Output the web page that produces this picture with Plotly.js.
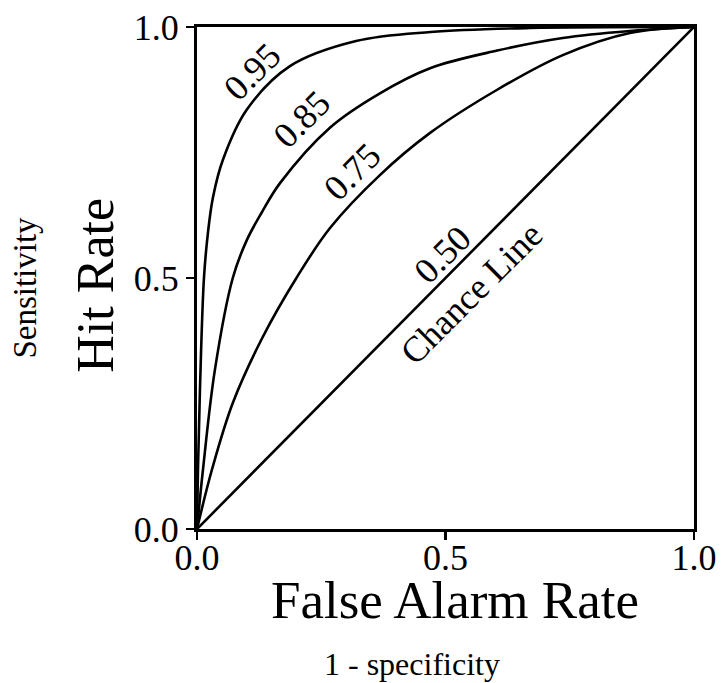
<!DOCTYPE html>
<html>
<head>
<meta charset="utf-8">
<script src="https://cdn.plot.ly/plotly-3.0.1.min.js"></script>
<style>
  html, body { margin: 0; padding: 0; background: #ffffff; }
  #chart { width: 721px; height: 683px; }
</style>
</head>
<body>
<div id="chart"></div>
<script>
// ROC curves: hit rate against false-alarm rate for several areas under the curve
const far95 = [0, 0.002, 0.006, 0.014, 0.022, 0.032, 0.052, 0.10, 0.187, 0.32, 0.47, 0.67, 1.0];
const hr95  = [0, 0.12, 0.28, 0.50, 0.59, 0.66, 0.735, 0.835, 0.922, 0.972, 0.99, 0.998, 1.0];

const far85 = [0, 0.012, 0.036, 0.072, 0.10, 0.13, 0.167, 0.268, 0.368, 0.469, 0.604, 0.736, 0.871, 1.0];
const hr85  = [0, 0.118, 0.317, 0.50, 0.575, 0.63, 0.689, 0.80, 0.868, 0.918, 0.953, 0.978, 0.992, 1.0];

const far75 = [0, 0.03, 0.072, 0.131, 0.20, 0.268, 0.368, 0.469, 0.604, 0.736, 0.871, 1.0];
const hr75  = [0, 0.118, 0.251, 0.38, 0.50, 0.60, 0.705, 0.789, 0.875, 0.944, 0.988, 1.0];

const far50 = [0, 1];
const hr50  = [0, 1];

const tickVals = [0, 0.5, 1];
const tickText = ['0.0', '0.5', '1.0'];

// Curve labels and where they sit along each curve (data coordinates)
const curveLabels = ['0.95', '0.85', '0.75', '0.50', 'Chance Line'];
const labelX = [0.111, 0.211, 0.312, 0.493, 0.553];
const labelY = [0.910, 0.817, 0.711, 0.546, 0.470];

const serif = 'Liberation Serif, Times New Roman, serif';
const lineStyle = { color: '#000', width: 2.6, shape: 'spline', smoothing: 1 };

const traces = [
  [far95, hr95], [far85, hr85], [far75, hr75], [far50, hr50]
].map(([x, y]) => ({
  x, y, type: 'scatter', mode: 'lines', line: lineStyle, hoverinfo: 'skip'
}));

const annotations = curveLabels.map((t, i) => ({
  text: t, x: labelX[i], y: labelY[i], xref: 'x', yref: 'y',
  xanchor: 'center', yanchor: 'middle',
  showarrow: false, textangle: -45,
  font: { family: serif, size: 36, color: '#000' }
}));

// Axis titles and their plain-language glosses
const titleBase = { xref: 'paper', yref: 'paper', xanchor: 'center', yanchor: 'middle', showarrow: false };
annotations.push(
  Object.assign({ text: 'Hit Rate', x: -0.206, y: 0.486, textangle: -90,
    font: { family: serif, size: 52, color: '#000' } }, titleBase),
  Object.assign({ text: 'Sensitivity', x: -0.345, y: 0.48, textangle: -90,
    font: { family: serif, size: 33, color: '#000' } }, titleBase),
  Object.assign({ text: 'False Alarm Rate', x: 0.519, y: -0.141,
    font: { family: serif, size: 53, color: '#000' } }, titleBase),
  Object.assign({ text: '1 - specificity', x: 0.433, y: -0.268,
    font: { family: serif, size: 32, color: '#000' } }, titleBase)
);

const axisBase = {
  range: [0, 1], tickvals: tickVals, ticktext: tickText,
  ticks: 'outside', ticklen: 8, tickwidth: 2.5, tickcolor: '#000',
  showline: true, linecolor: '#000', linewidth: 3, mirror: true,
  showgrid: false, zeroline: false, fixedrange: true,
  tickfont: { family: serif, size: 36, color: '#000' }
};

const layout = {
  width: 721, height: 683,
  margin: { l: 197, r: 27, t: 27, b: 154 },
  paper_bgcolor: '#ffffff', plot_bgcolor: '#ffffff',
  showlegend: false,
  xaxis: Object.assign({}, axisBase, { ticklabelstandoff: -13 }),
  yaxis: Object.assign({}, axisBase),
  annotations
};

Plotly.newPlot('chart', traces, layout, { displayModeBar: false, staticPlot: true });
</script>
</body>
</html>
